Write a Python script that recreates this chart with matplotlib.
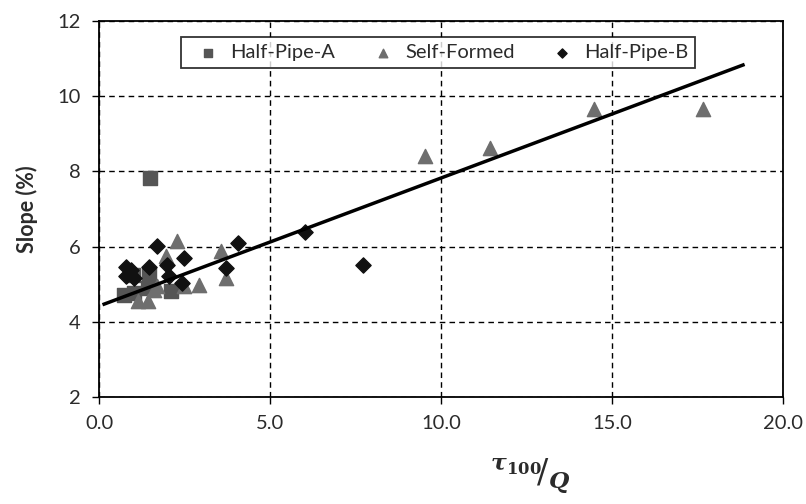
import numpy as np
import matplotlib
matplotlib.use("Agg")
import matplotlib.pyplot as plt

plt.rcParams['font.family'] = ['Lato', 'DejaVu Sans']
plt.rcParams['mathtext.fontset'] = 'dejavuserif'

# Half-Pipe-A (squares)
hpa_x = [0.74, 1.03, 0.99, 1.47, 1.42, 2.10, 1.50]
hpa_y = [4.72, 4.77, 5.25, 5.25, 4.90, 4.81, 7.83]

# Self-Formed (triangles)
sf_x = [2.27, 1.96, 3.56, 3.71, 2.93, 2.49, 1.71, 1.13, 1.42, 1.61,
        9.52, 11.44, 14.46, 17.67]
sf_y = [6.14, 5.74, 5.87, 5.17, 4.99, 4.94, 4.94, 4.54, 4.54, 4.85,
        8.41, 8.63, 9.65, 9.65]

# Half-Pipe-B (diamonds)
hpb_x = [1.71, 0.79, 0.93, 0.79, 1.03, 1.47, 2.00, 2.05, 2.49, 2.44,
         4.05, 3.71, 6.02, 7.71]
hpb_y = [6.01, 5.47, 5.39, 5.21, 5.17, 5.47, 5.52, 5.21, 5.70, 5.03,
         6.10, 5.43, 6.39, 5.50]

# trend line end points
trend_x = [0.15, 18.83]
trend_y = [4.47, 10.83]

x_ticks = [0.0, 5.0, 10.0, 15.0, 20.0]
y_ticks = [2, 4, 6, 8, 10, 12]

txt = '#2b2b2b'

fig = plt.figure(figsize=(8.06, 5.04), dpi=100)
ax = fig.add_axes([99 / 806, 1 - 397 / 504, 684 / 806, 376 / 504])

ax.scatter(hpa_x, hpa_y, marker='s', s=90, color='#555555', zorder=3, label='Half-Pipe-A')
ax.scatter(sf_x, sf_y, marker='^', s=105, color='#6e6e6e', zorder=4, label='Self-Formed')
ax.scatter(hpb_x, hpb_y, marker='D', s=60, color='#111111', zorder=5, label='Half-Pipe-B')
ax.plot(trend_x, trend_y, color='black', lw=2.5, zorder=6)

ax.set_xlim(0, 20)
ax.set_ylim(2, 12)
ax.set_xticks(x_ticks)
ax.set_xticklabels([f'{v:.1f}' for v in x_ticks])
ax.set_yticks(y_ticks)
ax.tick_params(labelsize=14.5, direction='out', length=5, width=1,
               color='black', labelcolor=txt, pad=8)
ax.grid(True, color='black', linestyle=(0, (4, 3)), linewidth=1, zorder=1)
for sp in ax.spines.values():
    sp.set_linewidth(1.3)
    sp.set_color('black')

ax.set_ylabel('Slope (%)', fontsize=15.5, fontweight='bold', color=txt, labelpad=14)
fig.text(0.658, 0.055, r'$^{\boldsymbol{\tau}_{\mathbf{100}}}\!/_{\boldsymbol{Q}}$',
         fontsize=24, ha='center', va='center', color=txt)

leg = ax.legend(loc='upper center', bbox_to_anchor=(0.496, 0.985), ncol=3,
                fontsize=14.5, frameon=True, fancybox=False, edgecolor='black',
                handletextpad=0.1, columnspacing=1.35, markerscale=0.6,
                borderpad=0.35, labelcolor=txt)
leg.get_frame().set_linewidth(1.3)

fig.savefig('out.png', dpi=100)
